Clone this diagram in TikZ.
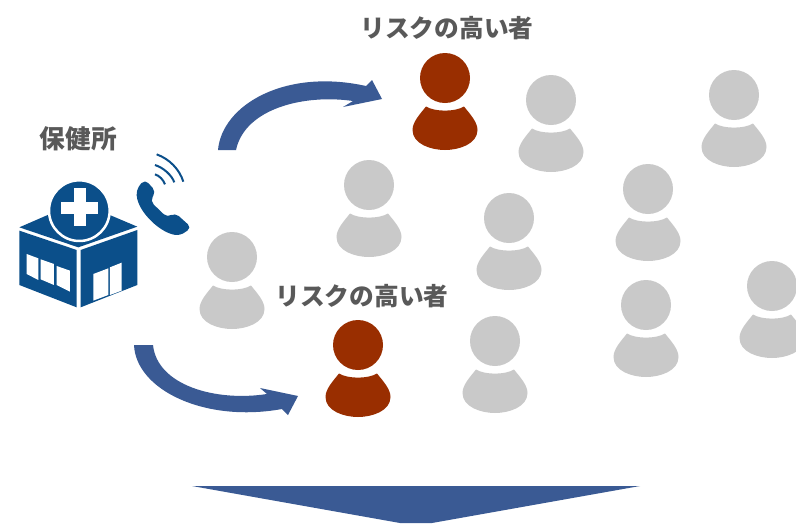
\documentclass[tikz,border=0pt]{standalone}
\usepackage{fontspec}
\newfontfamily\jpfont{Noto Sans CJK JP}
\definecolor{arrowblue}{HTML}{3A5A94}
\definecolor{bldblue}{HTML}{0B4F8A}
\definecolor{riskred}{HTML}{992E00}
\definecolor{othergray}{HTML}{C9C9C9}
\definecolor{labelgray}{HTML}{595959}
\tikzset{
  lbl/.style={font=\jpfont\bfseries\fontsize{24.7}{28}\selectfont,text=labelgray,inner sep=0pt},
  lblbig/.style={lbl,font=\jpfont\bfseries\fontsize{25.7}{28}\selectfont},
  flowarrow/.style={fill=arrowblue,draw=none},
  wave/.style={draw=bldblue,line width=2pt},
  person/.pic={
    \fill[pic actions] (0,0) circle (25);
    \fill[pic actions] (-19,28.5) .. controls (-10,34) and (10,34) .. (19,28.5)
      .. controls (25,36) and (32.5,44) .. (32.5,52)
      .. controls (32.5,66) and (14,72) .. (0,72)
      .. controls (-14,72) and (-32.5,66) .. (-32.5,52)
      .. controls (-32.5,44) and (-25,36) .. (-19,28.5) -- cycle;
  }
}
\begin{document}
\begin{tikzpicture}[x=1pt,y=-1pt]
\useasboundingbox (0,0) rectangle (796,523);
\fill[white] (0,0) rectangle (796,523);
% people
\foreach \px/\py in {551/100,734/95,369/185,509/218,648/189,232/257,495/341,646/305,772/286}
  \pic[fill=othergray] at (\px,\py) {person};
\pic[fill=riskred] at (445,78) {person};
\pic[fill=riskred] at (358,345) {person};
% labels
\node[lbl] (riskA) at (447,28) {リスクの高い者};
\node[lbl] (riskB) at (362,296) {リスクの高い者};
\node[lblbig] (hokenjo) at (78.5,139) {保健所};
% curved arrows
\fill[flowarrow] (218,150) .. controls (222,105) and (285,68) .. (366,86)
  -- (372,80) -- (382,99) -- (343,107) -- (353,101)
  .. controls (305,94) and (245,108) .. (236,150) -- cycle;
\fill[flowarrow] (134,345) .. controls (136,390) and (205,423) .. (282,409)
  -- (288,415) -- (298,396) -- (260,388) -- (267,394)
  .. controls (215,402) and (157,385) .. (153,345) -- cycle;
% big arrow
\fill[flowarrow] (192,486) -- (640,486) -- (432,523) -- (400,523) -- cycle;
% clinic
\begin{scope}[shift={(10,170)},x=0.3333pt,y=-0.3333pt]
  \fill[bldblue] (28,172) -- (205,95) -- (382,170) -- (205,232) -- cycle;
  \fill[bldblue] (28,182) -- (200,240) -- (200,412) -- (28,345) -- cycle;
  \fill[bldblue] (212,240) -- (382,180) -- (382,345) -- (212,412) -- cycle;
  \fill[white] (50,252) -- (85,265) -- (85,330) -- (50,312) -- cycle;
  \fill[white] (92,268) -- (132,282) -- (132,345) -- (92,328) -- cycle;
  \fill[white] (140,288) -- (180,302) -- (180,365) -- (140,345) -- cycle;
  \fill[white] (250,312) -- (295,295) -- (295,375) -- (250,392) -- cycle;
  \fill[white] (300,292) -- (335,278) -- (335,362) -- (300,375) -- cycle;
  \fill[bldblue,draw=white,line width=2.5pt] (208,122) circle (91);
  \fill[white] (191,55) rectangle (228,168);
  \fill[white] (152,95) rectangle (265,131);
\end{scope}
% phone
\begin{scope}[shift={(130,145)},x=0.3333pt,y=-0.3333pt]
  \fill[bldblue,rounded corners=5pt] (45,103) -- (78,140) -- (60,168) -- (112,218)
    -- (135,203) -- (185,248) -- (150,272)
    .. controls (85,262) and (15,190) .. (22,128) -- cycle;
  \draw[wave] (75,88) .. controls (88,92) and (100,104) .. (105,118);
  \draw[wave] (75,60) .. controls (100,68) and (125,90) .. (133,112);
  \draw[wave] (80,28) .. controls (118,42) and (148,72) .. (160,110);
\end{scope}
\end{tikzpicture}
\end{document}
